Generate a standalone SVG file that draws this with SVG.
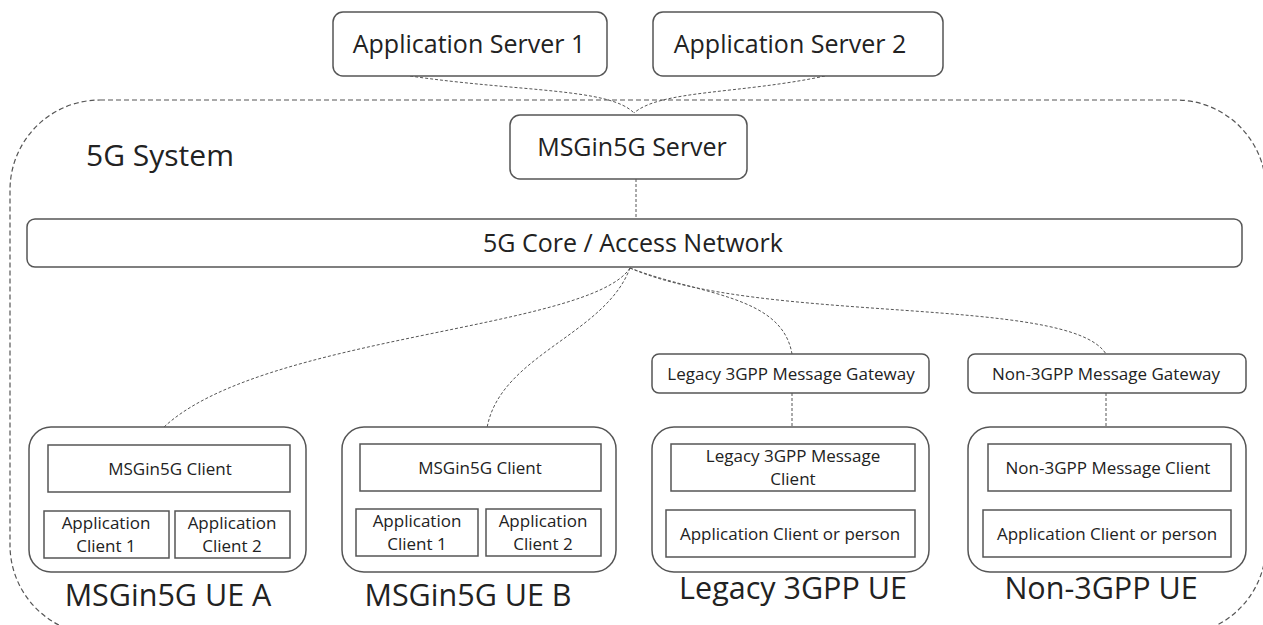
<svg xmlns="http://www.w3.org/2000/svg" width="1263" height="625" viewBox="0 0 1263 625">
<style>
text{font-family:"Open Sans","Noto Sans","Liberation Sans",sans-serif;fill:#222;text-anchor:middle}
.box{fill:#fff;stroke:#555;stroke-width:1.5}
.inner{fill:#fff;stroke:#555;stroke-width:1.5}
.conn{fill:none;stroke:#555;stroke-width:1;stroke-dasharray:3 2}
.sys{fill:none;stroke:#555;stroke-width:1.2;stroke-dasharray:5 3}
.t25{font-size:25px}.t17{font-size:17px}.t30{font-size:30.5px}
</style>
<rect class="sys" x="10" y="100" width="1256" height="535" rx="90"/>
<text x="160" y="166" style="font-size:30px">5G System</text>
<g id="connectors">
<path class="conn" d="M410,76 C520,92 610,88 634,113"/>
<path class="conn" d="M825,76 C740,94 660,90 634,113"/>
<path class="conn" d="M636,179 L636,219"/>
<path class="conn" d="M630,268 C590,330 260,335 163,428"/>
<path class="conn" d="M630,268 C605,335 500,355 487,428"/>
<path class="conn" d="M630,268 C700,295 782,295 792,354"/>
<path class="conn" d="M630,268 C760,325 1070,295 1106,354"/>
<path class="conn" d="M792,393 L792,428"/>
<path class="conn" d="M1106,393 L1106,428"/>
</g>
<g id="as1"><rect class="box" x="333" y="12" width="274" height="64" rx="10"/><text class="t25" x="469" y="53">Application Server 1</text></g>
<g id="as2"><rect class="box" x="653" y="12" width="290" height="64" rx="10"/><text class="t25" x="790" y="53">Application Server 2</text></g>
<g id="server"><rect class="box" x="510" y="115" width="237" height="64" rx="10"/><text class="t25" x="632" y="156">MSGin5G Server</text></g>
<g id="core"><rect class="box" x="27" y="219" width="1215" height="48" rx="8"/><text class="t25" x="633" y="252">5G Core / Access Network</text></g>
<g id="gw-legacy"><rect class="box" x="652" y="354" width="277" height="39" rx="7"/><text class="t17" x="791" y="380">Legacy 3GPP Message Gateway</text></g>
<g id="gw-non3gpp"><rect class="box" x="968" y="354" width="278" height="39" rx="7"/><text class="t17" x="1106" y="380">Non-3GPP Message Gateway</text></g>
<g id="ue-a">
<rect class="box" x="29" y="427" width="277" height="145" rx="22"/>
<rect class="inner" x="48" y="445" width="242" height="47"/><text class="t17" x="170" y="475">MSGin5G Client</text>
<rect class="inner" x="44" y="511" width="125" height="47"/><text class="t17" x="106" y="529">Application</text><text class="t17" x="106" y="552">Client 1</text>
<rect class="inner" x="175" y="511" width="115" height="47"/><text class="t17" x="232" y="529">Application</text><text class="t17" x="232" y="552">Client 2</text>
<text class="t30" x="168" y="606">MSGin5G UE A</text>
</g>
<g id="ue-b">
<rect class="box" x="342" y="427" width="274" height="145" rx="22"/>
<rect class="inner" x="360" y="444" width="241" height="47"/><text class="t17" x="480" y="474">MSGin5G Client</text>
<rect class="inner" x="356" y="509" width="122" height="47"/><text class="t17" x="417" y="527">Application</text><text class="t17" x="417" y="550">Client 1</text>
<rect class="inner" x="486" y="509" width="115" height="47"/><text class="t17" x="543" y="527">Application</text><text class="t17" x="543" y="550">Client 2</text>
<text class="t30" x="468" y="606">MSGin5G UE B</text>
</g>
<g id="ue-legacy">
<rect class="box" x="652" y="427" width="277" height="145" rx="22"/>
<rect class="inner" x="671" y="444" width="244" height="47"/><text class="t17" x="793" y="462">Legacy 3GPP Message</text><text class="t17" x="793" y="485">Client</text>
<rect class="inner" x="666" y="510" width="249" height="47"/><text class="t17" x="790" y="540">Application Client or person</text>
<text class="t30" x="793" y="599">Legacy 3GPP UE</text>
</g>
<g id="ue-non3gpp">
<rect class="box" x="968" y="427" width="278" height="145" rx="22"/>
<rect class="inner" x="988" y="444" width="243" height="47"/><text class="t17" x="1108" y="474">Non-3GPP Message Client</text>
<rect class="inner" x="983" y="510" width="248" height="47"/><text class="t17" x="1107" y="540">Application Client or person</text>
<text class="t30" x="1101" y="599">Non-3GPP UE</text>
</g>
</svg>
